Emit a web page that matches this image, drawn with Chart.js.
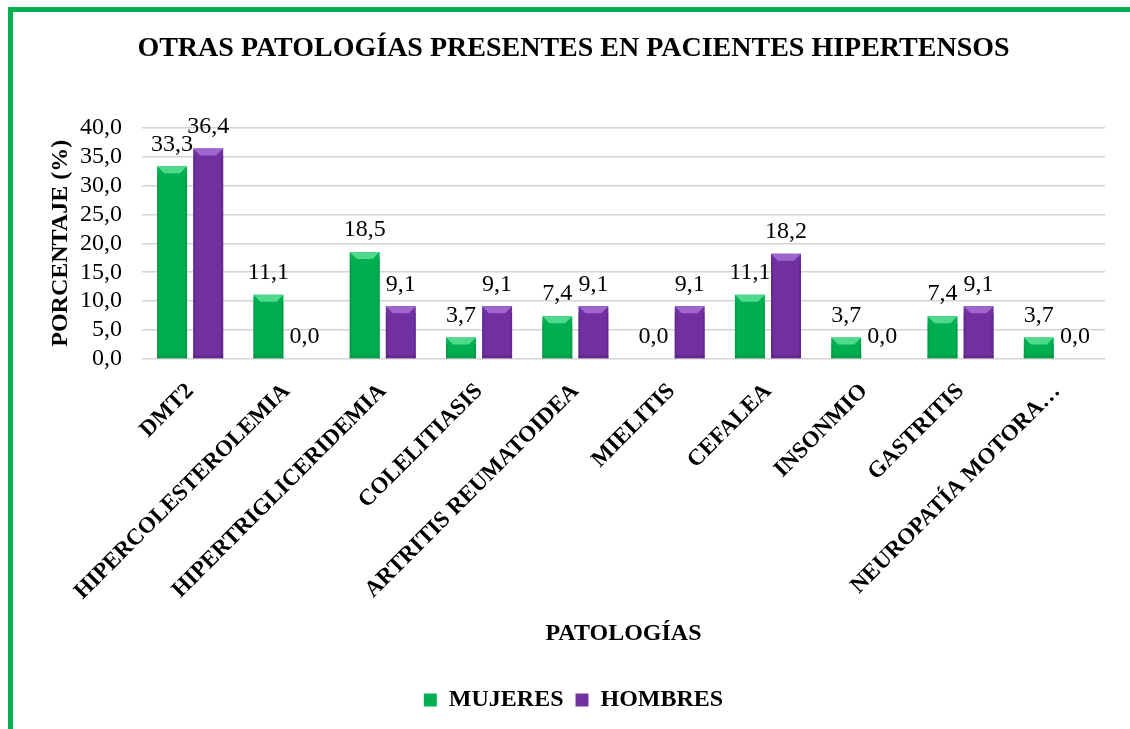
<!DOCTYPE html>
<html>
<head>
<meta charset="utf-8">
<script src="https://cdn.jsdelivr.net/npm/chart.js@4.4.0/dist/chart.umd.min.js"></script>
<style>
html,body{margin:0;padding:0;background:#fff;overflow:hidden;width:1130px;height:729px;}
#frame{position:absolute;left:8px;top:7px;width:1300px;height:900px;border:5px solid #00B050;box-sizing:border-box;}
#c{position:absolute;left:0;top:0;}
</style>
</head>
<body>
<div id="frame"></div>
<canvas id="c" width="1130" height="729"></canvas>
<script>
const categories = ["DMT2","HIPERCOLESTEROLEMIA","HIPERTRIGLICERIDEMIA","COLELITIASIS","ARTRITIS REUMATOIDEA","MIELITIS","CEFALEA","INSONMIO","GASTRITIS","NEUROPATÍA MOTORA…"];
const mujeres = [33.3, 11.1, 18.5, 3.7, 7.4, 0.0, 11.1, 3.7, 7.4, 3.7];
const hombres = [36.4, 0.0, 9.1, 9.1, 9.1, 9.1, 18.2, 0.0, 9.1, 0.0];
const yTicks = [0, 5, 10, 15, 20, 25, 30, 35, 40];

const fmt = v => v.toFixed(1).replace('.', ',');
const SERIF = '"Liberation Serif", "Times New Roman", serif';

const bevelPlugin = {
  id: 'bevel',
  afterDatasetsDraw(chart) {
    const ctx = chart.ctx;
    const lights = ['#4fd98c', '#9e66cc'];
    const darks = ['#008a3e', '#55207f'];
    chart.data.datasets.forEach((ds, di) => {
      const meta = chart.getDatasetMeta(di);
      meta.data.forEach((el) => {
        const p = el.getProps(['x','y','base','width'], true);
        const h = p.base - p.y;
        if (h < 1) return;
        const l = p.x - p.width/2, r = p.x + p.width/2;
        const b = Math.min(7, h/2);
        ctx.save();
        ctx.fillStyle = lights[di];
        ctx.beginPath();
        ctx.moveTo(l, p.y); ctx.lineTo(r, p.y); ctx.lineTo(r - b, p.y + b); ctx.lineTo(l + b, p.y + b); ctx.closePath();
        ctx.fill();
        ctx.fillStyle = darks[di];
        ctx.globalAlpha = 0.45;
        ctx.fillRect(l, p.y + b, 2, h - b);
        ctx.fillRect(r - 2, p.y + b, 2, h - b);
        ctx.fillRect(l, p.base - 3, p.width, 3);
        ctx.restore();
      });
    });
  }
};

const labelPlugin = {
  id: 'valueLabels',
  afterDatasetsDraw(chart) {
    const ctx = chart.ctx;
    ctx.save();
    ctx.font = '24px ' + SERIF;
    ctx.fillStyle = '#000';
    ctx.textAlign = 'center';
    ctx.textBaseline = 'middle';
    chart.data.datasets.forEach((ds, di) => {
      const meta = chart.getDatasetMeta(di);
      meta.data.forEach((el, i) => {
        const p = el.getProps(['x','y'], true);
        ctx.fillText(fmt(ds.data[i]), p.x, p.y - 22);
      });
    });
    ctx.restore();
  }
};

new Chart(document.getElementById('c'), {
  type: 'bar',
  data: {
    labels: categories,
    datasets: [
      { label: 'MUJERES', data: mujeres, backgroundColor: '#00B050', borderWidth: 0 },
      { label: 'HOMBRES', data: hombres, backgroundColor: '#7030A0', borderWidth: 0 }
    ]
  },
  options: {
    responsive: false,
    devicePixelRatio: 1,
    animation: false,
    categoryPercentage: 0.75,
    barPercentage: 0.83,
    layout: { padding: { left: 42, right: 25, top: 0, bottom: 7 } },
    plugins: {
      title: {
        display: true,
        text: 'OTRAS PATOLOGÍAS PRESENTES EN PACIENTES HIPERTENSOS',
        color: '#000',
        font: { family: SERIF, size: 28, weight: 'bold' },
        padding: { top: 32, bottom: 62 }
      },
      legend: {
        position: 'bottom',
        labels: {
          color: '#000',
          font: { family: SERIF, size: 24, weight: 'bold' },
          boxWidth: 13, boxHeight: 13, padding: 12
        }
      },
      tooltip: { enabled: false }
    },
    scales: {
      x: {
        grid: { display: false },
        border: { display: false },
        ticks: {
          color: '#000',
          font: { family: SERIF, size: 23, weight: 'bold' },
          minRotation: 45, maxRotation: 45,
          padding: 11,
          autoSkip: false
        },
        title: {
          display: true, text: 'PATOLOGÍAS', color: '#000',
          font: { family: SERIF, size: 24, weight: 'bold' },
          padding: { top: 10, bottom: 28 }
        },
        afterFit(scale) { scale.height = 317; }
      },
      y: {
        min: 0, max: 40,
        afterBuildTicks(scale) { scale.ticks = yTicks.map(v => ({ value: v })); },
        grid: { color: '#d4d4d4', lineWidth: 1.5, drawTicks: false },
        border: { display: false },
        ticks: {
          color: '#000',
          font: { family: SERIF, size: 24 },
          padding: 20,
          autoSkip: false,
          callback: v => fmt(v)
        },
        title: {
          display: true, text: 'PORCENTAJE (%)', color: '#000',
          font: { family: SERIF, size: 24, weight: 'bold' },
          padding: { top: 4, bottom: 0 }
        },
        afterFit(scale) { scale.width = 100; }
      }
    }
  },
  plugins: [bevelPlugin, labelPlugin]
});
</script>
</body>
</html>
